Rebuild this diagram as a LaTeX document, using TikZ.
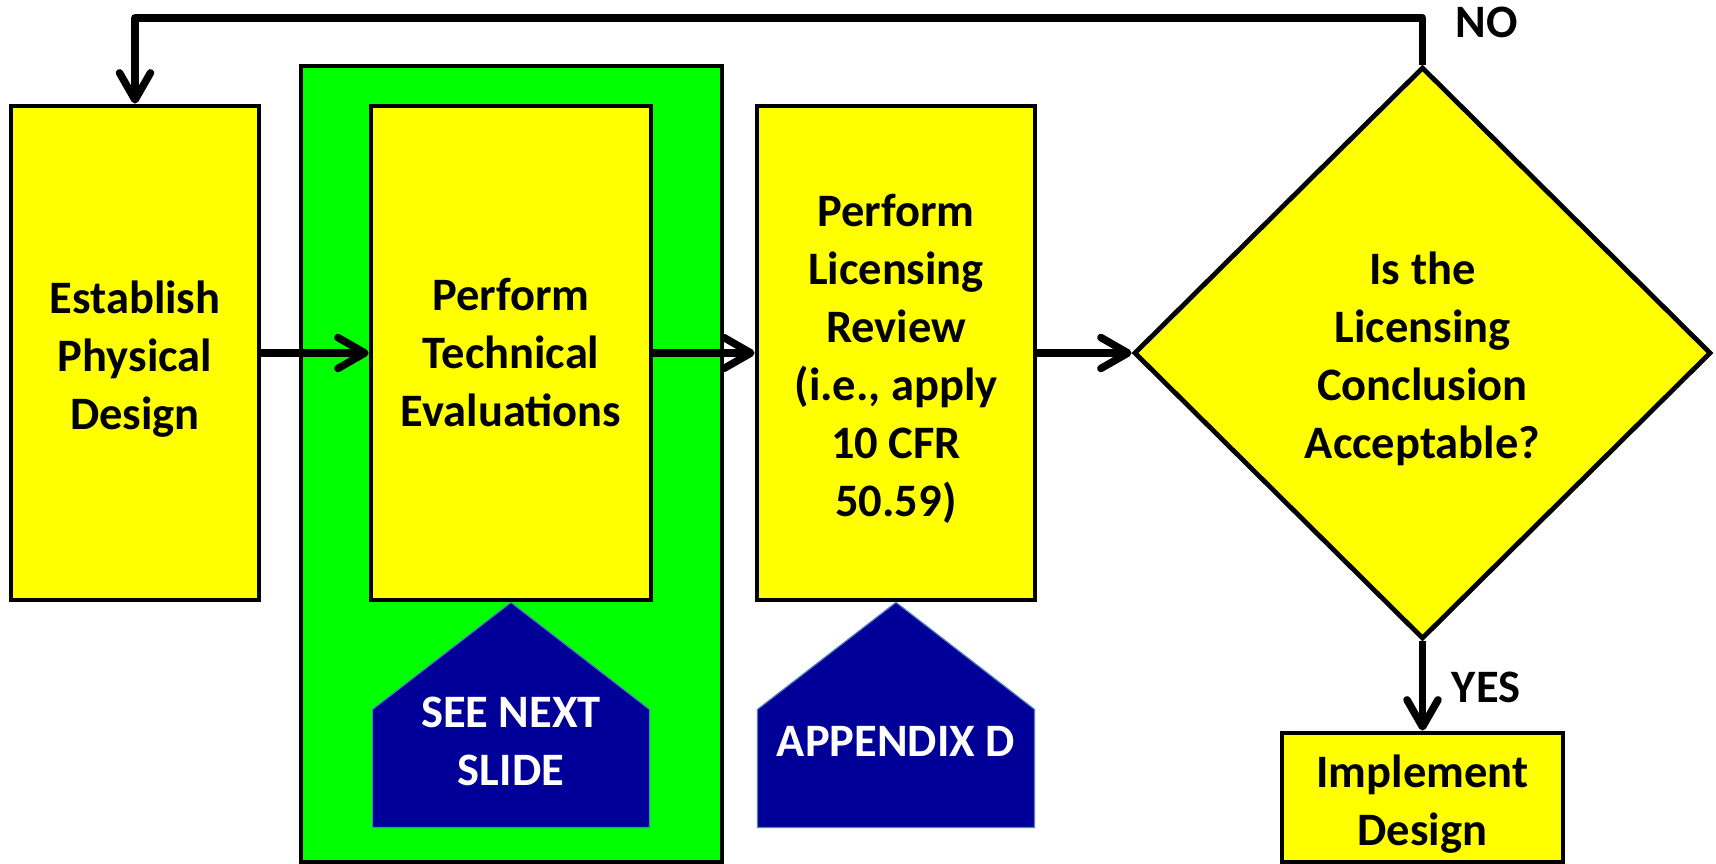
\documentclass[tikz,border=0pt]{standalone}
\usepackage{fontspec}
\setmainfont{Carlito}
\usetikzlibrary{arrows.meta,shapes.geometric,calc}
\definecolor{myyellow}{RGB}{255,255,0}
\definecolor{mygreen}{RGB}{0,255,0}
\definecolor{mynavy}{RGB}{0,0,153}
\definecolor{myedge}{RGB}{79,129,189}
\newcommand{\topstrut}{\rule{0pt}{45pt}}
\begin{document}
\begin{tikzpicture}[x=1pt,y=-1pt,
  bigfont/.style={font=\bfseries\fontsize{46.5}{58}\selectfont},
  box/.style={draw=black, line width=4.8pt, fill=myyellow, inner sep=0pt, align=center, bigfont},
  conn/.style={line width=7.5pt, line join=round, -{Straight Barb[length=27pt,width=31pt,round]}},
  lbl/.style={bigfont, inner sep=0pt},
  callout/.style={fill=mynavy, draw=myedge, line width=1.2pt},
  callouttext/.style={text=white, align=center, bigfont, inner sep=0pt}]
\useasboundingbox (0,0) rectangle (1716,864);
% green frame
\node[draw=black, line width=4.8pt, fill=mygreen, inner sep=0pt, minimum width=421pt, minimum height=796pt] (green) at (511.5,464) {};
% boxes
\node[box, minimum width=248pt, minimum height=494pt] (box1) at (135,353) {\topstrut Establish\\Physical\\Design};
\node[box, minimum width=280pt, minimum height=494pt] (box2) at (511,353) {Perform\\Technical\\Evaluations};
\node[box, minimum width=278pt, minimum height=494pt] (box3) at (896,353) {\topstrut Perform\\Licensing\\Review\\(i.e., apply\\10 CFR\\50.59)};
\node[box, shape=diamond, minimum width=577pt, minimum height=572pt] (dia) at (1422.5,353) {\topstrut Is the\\Licensing\\Conclusion\\Acceptable?};
\node[box, minimum width=281pt, minimum height=129pt] (impl) at (1422.5,797.5) {\topstrut Implement\\Design};
% callouts
\path[callout] (box2.south) -- ++(138.5,107) -- ++(0,118) -- ++(-277,0) -- ++(0,-118) -- cycle;
\path[callout] (box3.south) -- ++(138.5,107) -- ++(0,118) -- ++(-277,0) -- ++(0,-118) -- cycle;
\node[callouttext] (c1) at ($(box2.south)+(0,139)$) {SEE NEXT\\SLIDE};
\node[callouttext] (c2) at ($(box3.south)+(0,139)$) {APPENDIX D};
% connectors
\coordinate (topline) at (0,18);
\draw[conn] (box1.east) -- (box2.west);
\draw[conn] (box2.east) -- (box3.west);
\draw[conn] (box3.east) -- (dia.west);
\draw[conn] (dia.south) -- (impl.north);
\draw[conn] (dia.north) -- (dia.north |- topline) -- (box1.north |- topline) -- (box1.north);
% labels
\node[lbl] (no) at (1487,22) {NO};
\node[lbl] (yes) at (1486,687) {YES};
\end{tikzpicture}
\end{document}
